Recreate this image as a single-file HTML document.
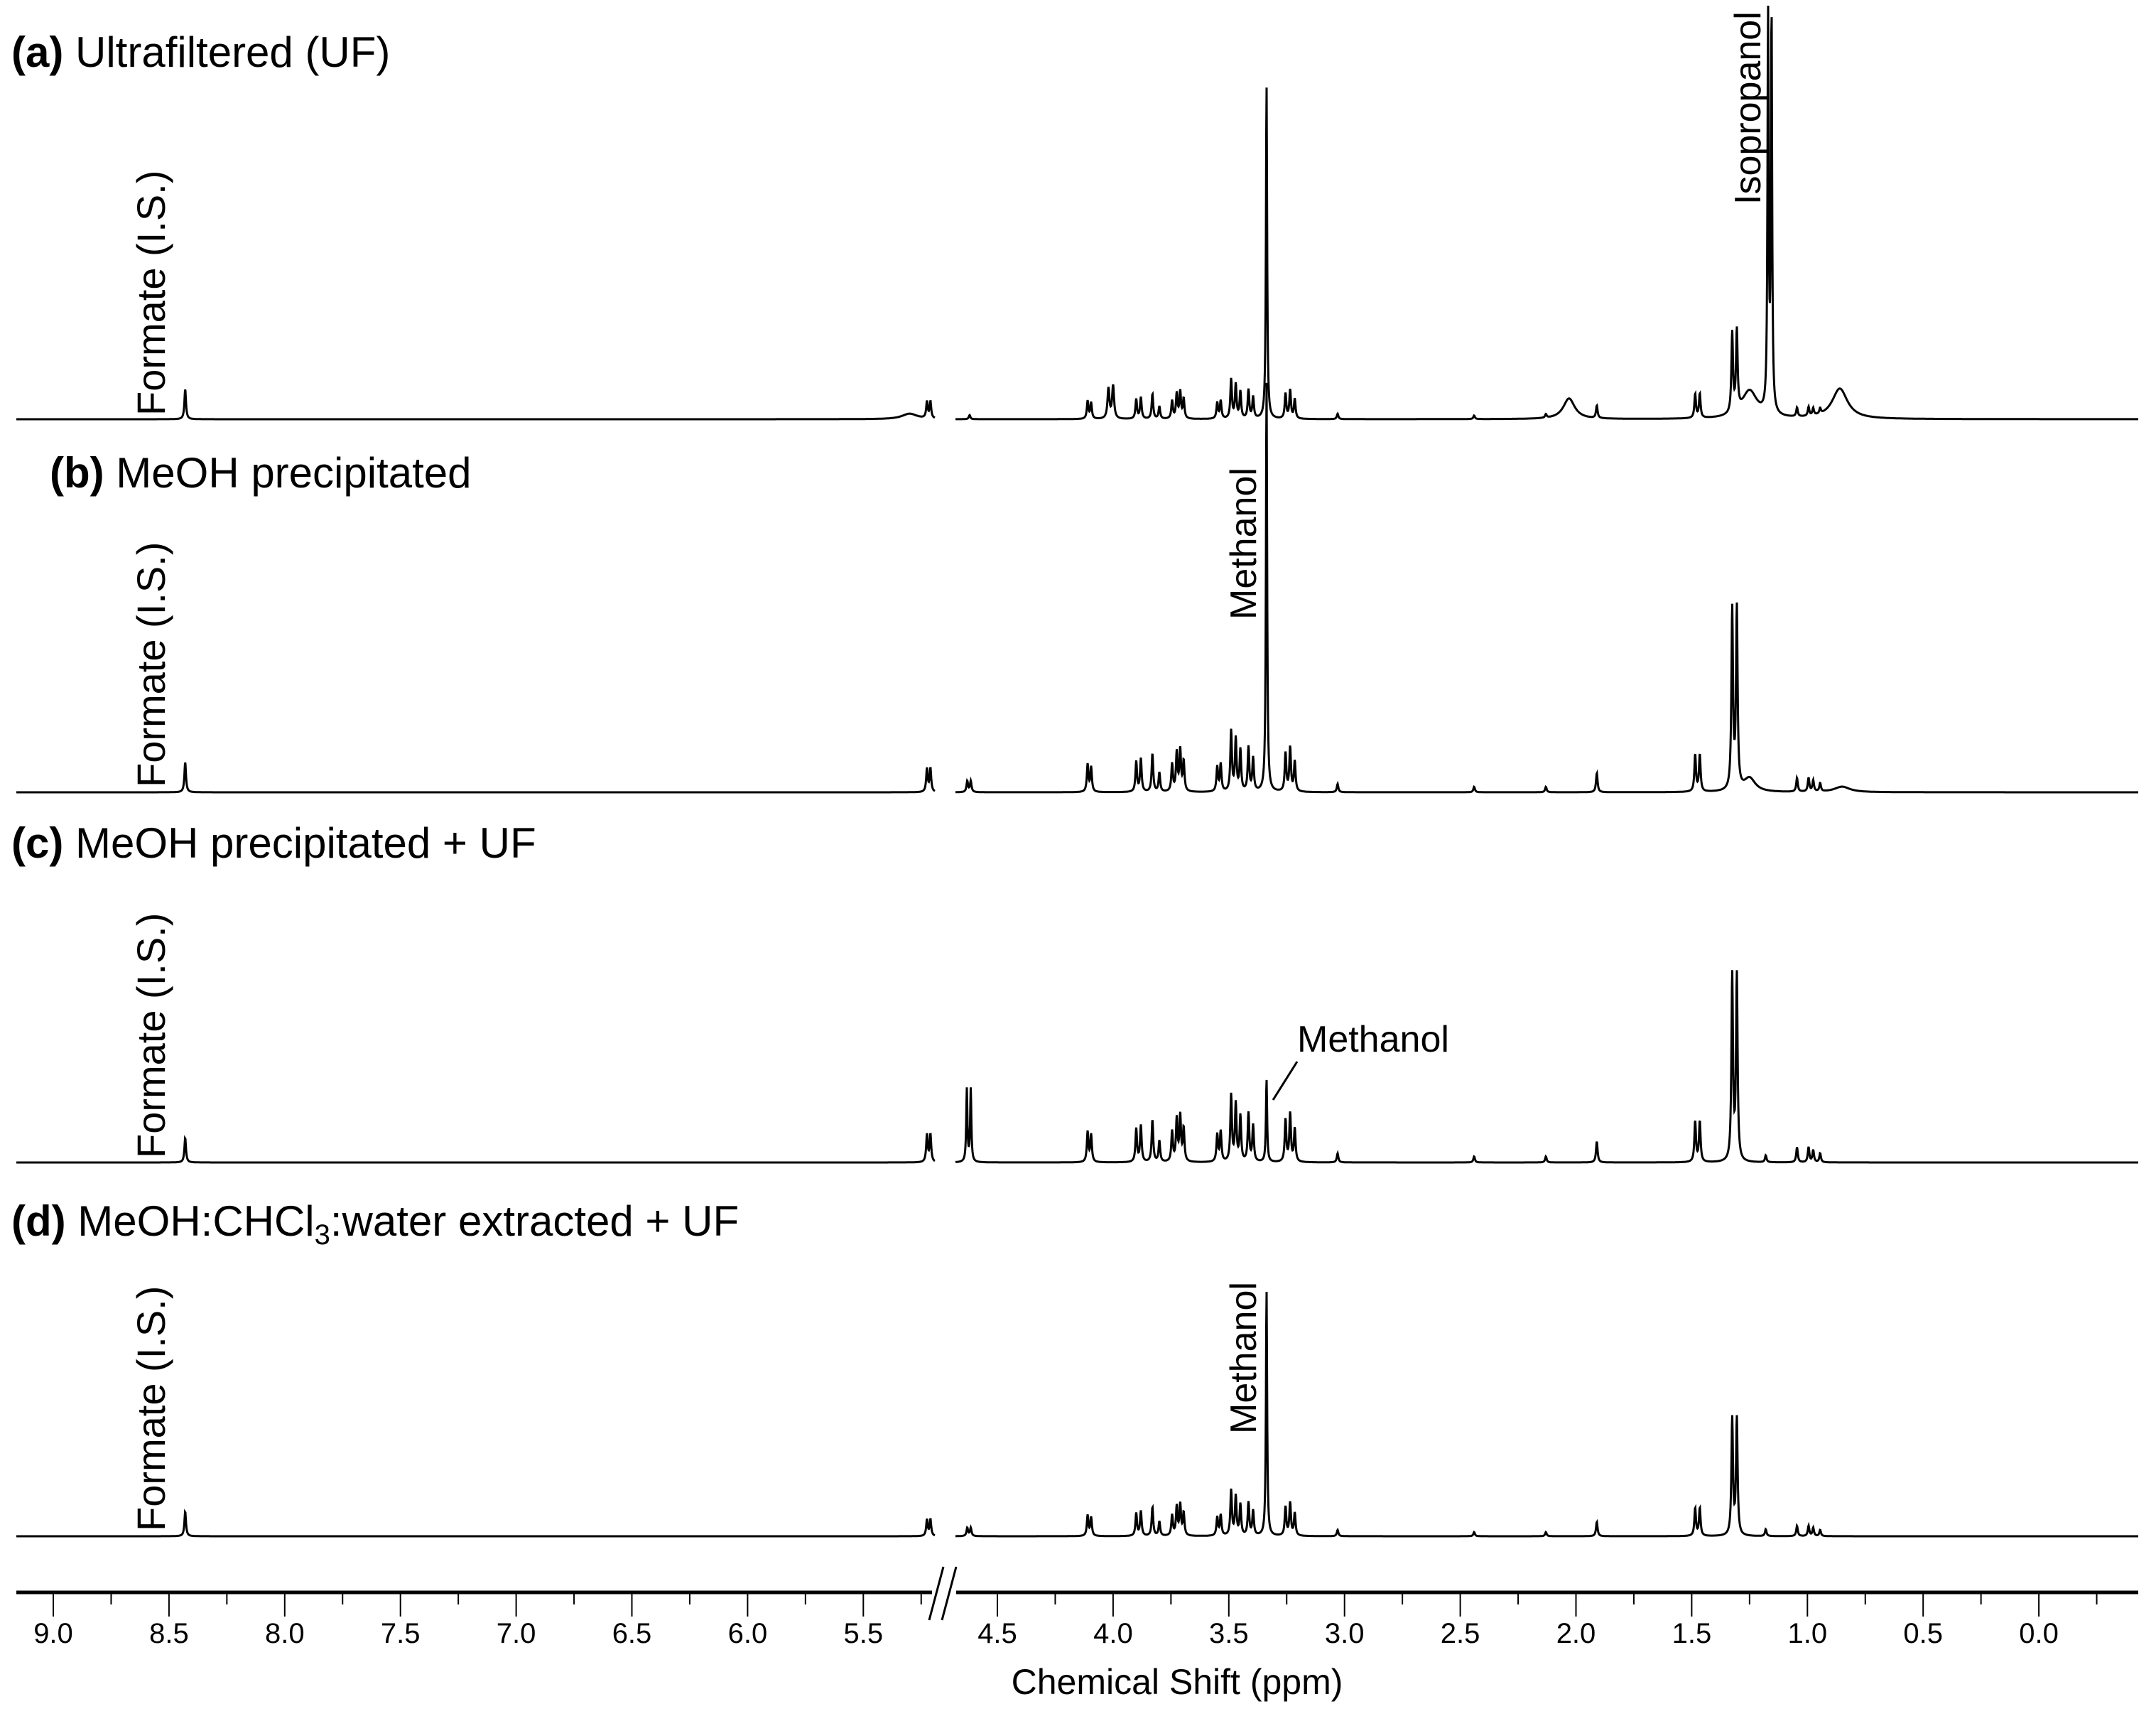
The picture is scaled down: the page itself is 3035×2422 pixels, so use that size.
<!DOCTYPE html>
<html><head><meta charset="utf-8"><style>
html,body{margin:0;padding:0;background:#fff}
svg{display:block}
text{font-family:"Liberation Sans",sans-serif;fill:#000}
</style></head><body>
<svg id="chart" width="3035" height="2422" viewBox="0 0 3035 2422" xmlns="http://www.w3.org/2000/svg">
<g id="spectra"></g>
<g id="axis"></g>
<g font-size="60">
<text x="16" y="94"><tspan font-weight="bold">(a)</tspan> Ultrafiltered (UF)</text>
<text x="70" y="686"><tspan font-weight="bold">(b)</tspan> MeOH precipitated</text>
<text x="16" y="1207"><tspan font-weight="bold">(c)</tspan> MeOH precipitated + UF</text>
<text x="16" y="1739"><tspan font-weight="bold">(d)</tspan> MeOH:CHCl<tspan font-size="40" dy="12">3</tspan><tspan dy="-12">:water extracted + UF</tspan></text>
</g>
<g font-size="52">
<text font-size="56" transform="translate(232,585) rotate(-90)">Formate (I.S.)</text>
<text font-size="56" transform="translate(232,1108) rotate(-90)">Formate (I.S.)</text>
<text font-size="56" transform="translate(232,1630) rotate(-90)">Formate (I.S.)</text>
<text font-size="56" transform="translate(232,2155) rotate(-90)">Formate (I.S.)</text>
<text transform="translate(2478,288) rotate(-90)">Isopropanol</text>
<text transform="translate(1768,872) rotate(-90)">Methanol</text>
<text transform="translate(1768,2018) rotate(-90)">Methanol</text>
<text x="1826" y="1480">Methanol</text>
<line x1="1826" y1="1494" x2="1792" y2="1548" stroke="#000" stroke-width="3"/>
</g>
<text x="1657" y="2384" font-size="50" text-anchor="middle">Chemical Shift (ppm)</text>
</svg>
<script>
// display-scale -> pixel factor for heights
const S = 1.936;
// common metabolite multiplet positions (ppm) and heights (panel b reference)
const clusterPpm = [4.11,4.095,3.90,3.88,3.83,3.80,3.745,3.725,3.71,3.695,3.55,3.535,3.49,3.47,3.45,3.415,3.395,3.255,3.235,3.215,3.03,2.44,2.13,1.91,1.485,1.465,1.045,0.995,0.975,0.945];
const clusterH   = [20,18,22,24,28,14,20,28,30,22,18,20,44,38,30,32,24,28,32,22,6,4,4,14,27,27,10,10,8,6];
// panel baselines
const baselines = [590,1115,1636,2162];
// cluster scale per panel
const clusterScale = [0.65,1.0,1.1,0.75];
// extra peaks per panel: [ppm, height(display px), width ppm]
const extraA = [[8.43,22,0.004],[5.225,12,0.004],[5.21,12,0.004],[5.30,4,0.04],[4.62,3,0.004],[4.02,22,0.005],[4.00,24,0.005],[3.337,243,0.003],[2.03,15,0.03],[1.325,58,0.004],[1.305,58,0.004],[1.25,20,0.04],[1.17,290,0.003],[1.155,290,0.003],[0.86,22,0.04]];
const extraB = [[8.43,22,0.004],[5.225,17,0.004],[5.21,17,0.004],[4.63,8,0.004],[4.615,8,0.004],[3.337,300,0.003],[1.325,131,0.004],[1.305,131,0.004],[1.25,10,0.03],[0.85,4,0.04]];
const extraC = [[8.43,18,0.004],[5.225,20,0.004],[5.21,20,0.004],[4.632,53,0.003],[4.615,53,0.003],[3.337,60,0.003],[1.325,135,0.004],[1.305,135,0.004],[1.18,5,0.004]];
const extraD = [[8.43,18,0.004],[5.225,12,0.004],[5.21,12,0.004],[4.63,6,0.004],[4.615,6,0.004],[3.337,179,0.003],[1.325,85,0.004],[1.305,85,0.004],[1.18,5,0.004]];
const extras = [extraA,extraB,extraC,extraD];
const tickLabelsL = ["9.0","8.5","8.0","7.5","7.0","6.5","6.0","5.5"];
const tickLabelsR = ["4.5","4.0","3.5","3.0","2.5","2.0","1.5","1.0","0.5","0.0"];

const NS="http://www.w3.org/2000/svg";
const PX = 325.8; // px per ppm
function xL(p){return 75+(9.0-p)*PX;}
function xR(p){return 1404+(4.5-p)*PX;}
const segs=[{x0:23,x1:1316,inv:x=>9.0-(x-75)/PX},{x0:1345,x1:3010,inv:x=>4.5-(x-1404)/PX}];
const sp=document.getElementById('spectra');
for(let k=0;k<4;k++){
  const peaks=[];
  for(let i=0;i<clusterPpm.length;i++)peaks.push([clusterPpm[i],clusterH[i]*clusterScale[k],0.004]);
  extras[k].forEach(p=>peaks.push(p));
  segs.forEach((s,si)=>{
    let d="";
    for(let x=s.x0;x<=s.x1;x+=0.5){
      const p=s.inv(x);let y=0;
      for(const q of peaks){const u=(p-q[0])/q[2];y+=q[1]/(1+u*u);}
      let yy=baselines[k]-y*S; if(yy<8)yy=8;
      d+=(d?"L":"M")+x.toFixed(1)+" "+yy.toFixed(1);
    }
    const path=document.createElementNS(NS,'path');
    path.setAttribute('d',d);path.setAttribute('fill','none');path.setAttribute('stroke','#000');path.setAttribute('stroke-width','3');
    
    
    sp.appendChild(path);
  });
}
const ax=document.getElementById('axis');
function mk(tag,attrs){const e=document.createElementNS(NS,tag);for(const a in attrs)e.setAttribute(a,attrs[a]);ax.appendChild(e);return e;}
const axl=mk('line',{x1:23,y1:2241,x2:3010,y2:2241,stroke:'#000','stroke-width':5});


const br=mk('rect',{x:1312,y:2232,width:34,height:18,fill:'#fff'});


[[1308,1328],[1326,1346]].forEach(b=>{const l=mk('line',{x1:b[0],y1:2280,x2:b[1],y2:2205,stroke:'#000','stroke-width':3});

});
function ticks(labels,f){
  labels.forEach(t=>{const p=parseFloat(t),x=f(p);
    const l=mk('line',{x1:x,y1:2241,x2:x,y2:2275,stroke:'#000','stroke-width':2});
    
    
    const tx=mk('text',{x:x,y:2312,'font-size':40,'text-anchor':'middle'});tx.textContent=t;
    
    
  });
}
ticks(tickLabelsL,xL);ticks(tickLabelsR,xR);
for(let p=8.75;p>5.2;p-=0.5){const l=mk('line',{x1:xL(p),y1:2241,x2:xL(p),y2:2258,stroke:'#000','stroke-width':2});

}
for(let p=4.25;p>-0.3;p-=0.5){const l=mk('line',{x1:xR(p),y1:2241,x2:xR(p),y2:2258,stroke:'#000','stroke-width':2});

}
</script>
</body></html>
